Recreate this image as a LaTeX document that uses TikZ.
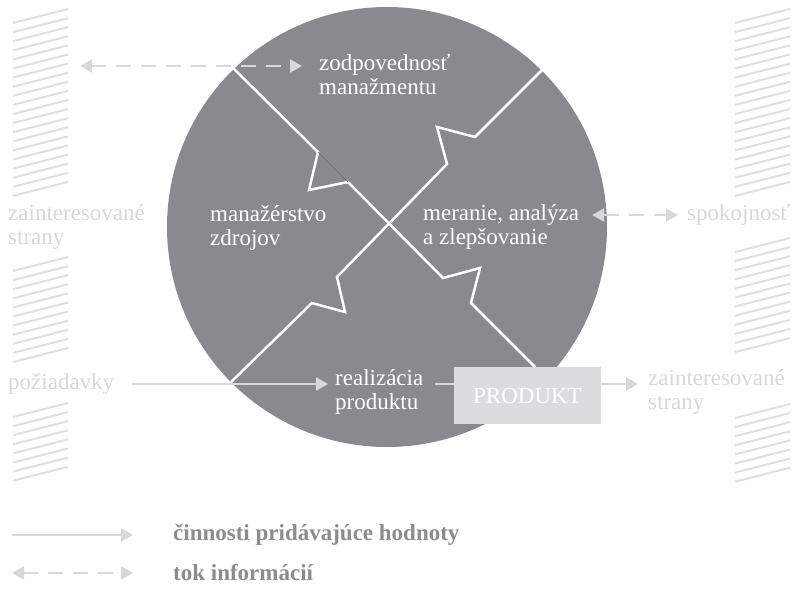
\documentclass[tikz,border=0pt]{standalone}
\usepackage{fontspec}
\setmainfont{Liberation Serif}
\usetikzlibrary{arrows.meta}

\definecolor{kruh}{HTML}{898A8E}
\definecolor{svetla}{HTML}{D8D8DA}
\definecolor{srafa}{HTML}{DFDFE1}
\definecolor{legenda}{HTML}{8C8C8F}
\definecolor{box}{HTML}{DCDCDE}

\begin{document}
\begin{tikzpicture}[x = 1pt, y = -1pt, > = {Triangle[length=12pt, width=13pt]},
        txt/.style = {font=\fontsize{23}{24}\selectfont, align=left, anchor=west, inner xsep=0pt, inner ysep=2pt},
        vnutri/.style = {txt, text=white},
        vonku/.style = {txt, text=svetla},
        tok/.style = {draw=svetla, line width=2.6pt, ->},
        info/.style = {draw=svetla, line width=2.6pt, dash pattern=on 15pt off 10pt, <->},
        rez/.style = {draw=white, line width=2.5pt},
        srafa/.style = {draw=srafa, line width=2pt}]
            \useasboundingbox (0, 0) rectangle (795, 589);

            \foreach \x/\y/\n in {13/9/19, 13/257/10, 13/403/7, 735/9/19, 735/238/11, 735/404/7}
                \foreach \k in {0,...,\n}
                    \draw[srafa] (\x, \y+14+9.1*\k) -- (\x+55, \y+9.1*\k);

            \fill[kruh] (387, 227) circle (220);
            \draw[rez] (232, 67) -- (318, 152) -- (309, 190) -- (348, 182) -- (443, 278) -- (480, 268) -- (471, 303) -- (535, 367);
            \draw[rez] (542, 70) -- (475, 137) -- (437, 127) -- (447, 164) -- (337, 277) -- (345, 312) -- (312, 303) -- (228, 385);
            \draw[kruh!80!black, line width=0.6pt] (318, 152) -- (348, 182);

            \node[vnutri] (zodpovednost) at (319, 74) {zodpovednosť\\manažmentu};
            \node[vnutri] (zdroje) at (210, 228) {manažérstvo\\zdrojov};
            \node[vnutri] (meranie) at (423, 227) {meranie, analýza\\a zlepšovanie};
            \node[vnutri] (realizacia) at (335, 392) {realizácia\\produktu};
            \node[fill=box, text=white, font=\fontsize{23}{24}\selectfont, minimum width=147pt, minimum height=57pt, inner sep=0pt] (produkt) at (527.5, 395.5) {PRODUKT};

            \node[vonku] (stranyL) at (8, 227) {zainteresované\\strany};
            \node[vonku] (poziadavky) at (8, 384) {požiadavky};
            \node[vonku] (spokojnost) at (687, 215) {spokojnosť};
            \node[vonku] (stranyP) at (648, 392) {zainteresované\\strany};

            \coordinate (infoL) at (80, 66);
            \draw[info, shorten >= 17pt] (infoL) -- (infoL -| zodpovednost.west);
            \draw[info, shorten <= 13pt, shorten >= 9pt] (meranie.east |- spokojnost.west) -- (spokojnost.west);
            \draw[tok, shorten <= 18pt, shorten >= 7pt] (poziadavky.east) -- (poziadavky.east -| realizacia.west);
            \draw[draw=svetla, line width=2.6pt, shorten <= 12pt] (realizacia.east |- poziadavky.east) -- (produkt.west |- poziadavky.east);
            \draw[tok, shorten >= 10pt] (produkt.east |- poziadavky.east) -- (stranyP.west |- poziadavky.east);

            \coordinate (legA) at (12, 535);
            \coordinate (legB) at (133, 535);
            \coordinate (legC) at (12, 573);
            \coordinate (legD) at (133, 573);
            \draw[tok] (legA) -- (legB);
            \draw[info] (legC) -- (legD);
            \node[txt, text=legenda, font=\fontsize{23}{24}\selectfont\bfseries] (cinnosti) at (173, 535) {činnosti pridávajúce hodnoty};
            \node[txt, text=legenda, font=\fontsize{23}{24}\selectfont\bfseries] (tokinfo) at (173, 573) {tok informácií};

        \end{tikzpicture}
\end{document}
